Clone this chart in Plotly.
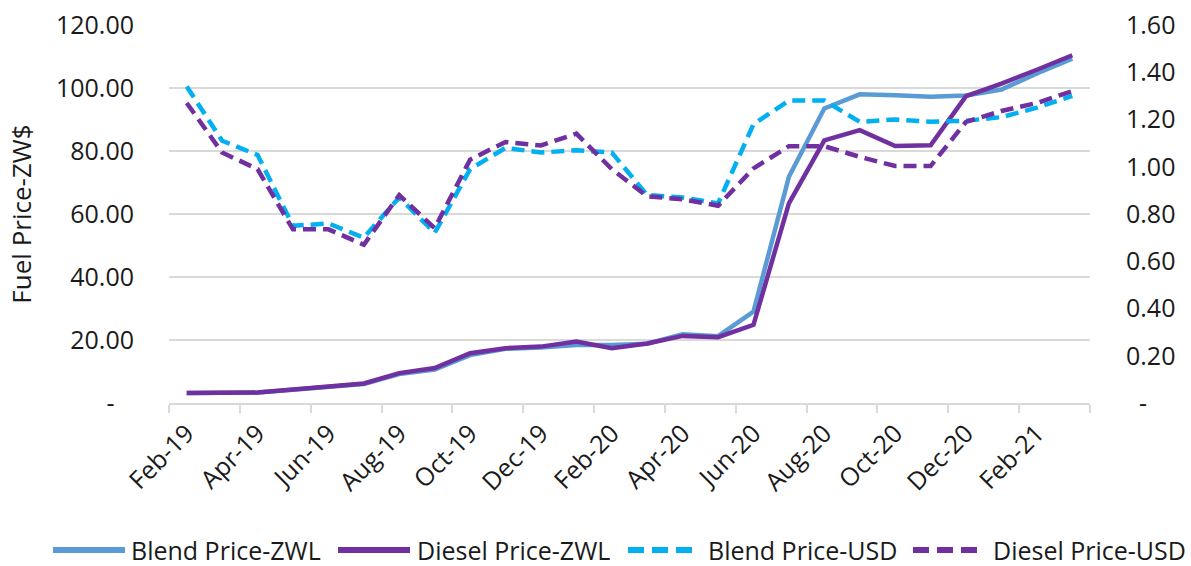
import plotly.graph_objects as go

months = ["Feb-19", "Mar-19", "Apr-19", "May-19", "Jun-19", "Jul-19", "Aug-19", "Sep-19",
          "Oct-19", "Nov-19", "Dec-19", "Jan-20", "Feb-20", "Mar-20", "Apr-20", "May-20",
          "Jun-20", "Jul-20", "Aug-20", "Sep-20", "Oct-20", "Nov-20", "Dec-20", "Jan-21",
          "Feb-21", "Mar-21"]

blend_zwl = [3.2, 3.2, 3.3, 4.2, 5.1, 6.0, 9.2, 10.6, 15.2, 17.2, 17.6, 18.4, 18.4,
             18.8, 21.8, 21.2, 29.0, 71.8, 93.5, 98.0, 97.7, 97.2, 97.6, 99.5, 104.6, 109.3]
diesel_zwl = [3.2, 3.2, 3.3, 4.3, 5.2, 6.2, 9.5, 11.1, 15.8, 17.4, 17.9, 19.5, 17.4,
              18.9, 21.3, 20.9, 24.8, 63.4, 83.4, 86.6, 81.6, 81.8, 97.4, 101.4, 105.8, 110.4]
blend_usd = [1.34, 1.11, 1.05, 0.75, 0.76, 0.70, 0.87, 0.72, 0.99, 1.08, 1.06, 1.07, 1.06,
             0.88, 0.87, 0.845, 1.18, 1.28, 1.28, 1.19, 1.20, 1.19, 1.195, 1.21, 1.25, 1.30]
diesel_usd = [1.27, 1.06, 0.99, 0.735, 0.735, 0.67, 0.88, 0.74, 1.03, 1.105, 1.09, 1.14, 0.99,
              0.875, 0.862, 0.835, 0.993, 1.087, 1.087, 1.042, 1.003, 1.003, 1.19, 1.236, 1.27, 1.32]

series_names = ["Blend Price-ZWL", "Diesel Price-ZWL", "Blend Price-USD", "Diesel Price-USD"]

left_vals = [0, 20, 40, 60, 80, 100, 120]
left_text = ["-\u00a0\u00a0\u00a0", "20.00", "40.00", "60.00", "80.00", "100.00", "120.00"]
right_vals = [0, 0.2, 0.4, 0.6, 0.8, 1.0, 1.2, 1.4, 1.6]
right_text = ["\u00a0\u00a0-", "0.20", "0.40", "0.60", "0.80", "1.00", "1.20", "1.40", "1.60"]

C_BLEND = "#5B9BD5"
C_DIESEL = "#7030A0"
C_BLEND_USD = "#00B0F0"
FONT = "Segoe UI, Open Sans, sans-serif"
GRID = "#D9D9D9"
TXT = "#1a1a1a"
FS = 25

colors = [C_BLEND, C_DIESEL, C_BLEND_USD, C_DIESEL]
dashes = ["solid", "solid", "13px,7px", "13px,7px"]
axes = ["y", "y", "y2", "y2"]
data = [blend_zwl, diesel_zwl, blend_usd, diesel_usd]

fig = go.Figure()
for name, vals, col, dsh, ax in zip(series_names, data, colors, dashes, axes):
    fig.add_trace(go.Scatter(x=months, y=vals, name=name, mode="lines", yaxis=ax,
                             line=dict(color=col, width=4.5, dash=dsh)))

# custom legend (long Excel-style symbols), positioned in paper coords of the plot area
PL, PW, PB, PH = 169, 921, 403, 378
def px(x):
    return (x - PL) / PW
def py(y):
    return (PB - y) / PH

leg_sym = [(53, 125), (338, 410), (628, 697), (913, 980)]
leg_txt = [130, 416, 707, 992]
leg_dash = ["solid", "solid", "16px,8px", "16px,8px"]
ly = py(550)
for (s0, s1), tx, col, dsh, name in zip(leg_sym, leg_txt, colors, leg_dash, series_names):
    fig.add_shape(type="line", xref="paper", yref="paper", x0=px(s0), x1=px(s1), y0=ly, y1=ly,
                  line=dict(color=col, width=6, dash=dsh))
    fig.add_annotation(xref="paper", yref="paper", x=px(tx), y=ly, text=name, showarrow=False,
                       xanchor="left", yanchor="middle", borderpad=0,
                       font=dict(size=FS, color=TXT, family=FONT))

fig.update_layout(
    width=1191, height=566,
    margin=dict(l=169, r=101, t=25, b=163, autoexpand=False),
    paper_bgcolor="white", plot_bgcolor="white",
    font=dict(family=FONT, size=FS, color=TXT),
    showlegend=False,
    xaxis=dict(type="category", dtick=2, tickson="boundaries", ticks="outside", ticklen=8,
               tickcolor=GRID, tickwidth=1.5, showline=True, linecolor=GRID, linewidth=1.5,
               showgrid=False, tickangle=-45, tickfont=dict(size=FS), ticklabelstandoff=4,
               range=[-0.5, 25.5], automargin=False),
    yaxis=dict(range=[0, 120], tickvals=left_vals, ticktext=left_text, showgrid=True,
               gridcolor=GRID, gridwidth=1.5, zeroline=False, showline=False,
               ticklabelstandoff=34, tickfont=dict(size=FS), automargin=False,
               title=dict(text="Fuel Price-ZW$", font=dict(size=26), standoff=16)),
    yaxis2=dict(range=[0, 1.6], tickvals=right_vals, ticktext=right_text, overlaying="y",
                side="right", showgrid=False, zeroline=False, showline=False,
                ticklabelstandoff=35, tickfont=dict(size=FS), automargin=False),
)

fig.write_html("out.html", config={"displayModeBar": False},
               post_script="document.body.style.margin='0px';")
